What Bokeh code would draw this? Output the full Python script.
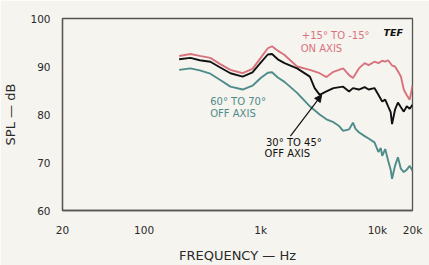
from bokeh.plotting import figure
from bokeh.models import FixedTicker, Label, Arrow, NormalHead
from bokeh.embed import file_html
from bokeh.resources import INLINE

# ---- data ----
on_freq = [200, 250, 300, 370, 450, 550, 700, 850, 1000, 1150, 1250, 1400, 1600, 2050, 2640, 3200, 3660,
           4200, 5090, 5720, 6180, 6940, 7780, 8410, 9440, 10200, 11000, 11670, 12360, 13360,
           14160, 15000, 15900, 16840, 17860, 18920, 20000]
on_db = [92.2, 92.6, 92.2, 91.8, 90.5, 89.3, 88.6, 89.5, 91.8, 93.8, 94.2, 93.3, 92.4, 90.0, 89.3, 88.6, 87.8,
         88.9, 89.6, 88.2, 87.6, 89.6, 90.7, 90.3, 91.0, 90.7, 91.2, 91.0, 91.3, 90.2,
         90.0, 89.0, 87.9, 85.2, 84.0, 83.1, 86.0]

mid_freq = [200, 250, 300, 370, 450, 550, 700, 850, 1000, 1150, 1250, 1400, 1600, 2050, 2640, 2900, 3200,
            3660, 4200, 5090, 5720, 6180, 6940, 7780, 8410, 9440, 10200, 11000, 11670, 12360,
            13000, 13360, 14160, 15000, 15900, 16840, 17860, 18920, 20000]
mid_db = [91.5, 91.8, 91.3, 91.0, 89.8, 88.6, 87.9, 88.8, 90.8, 92.5, 92.6, 91.5, 90.7, 89.6, 87.9, 85.5, 84.1,
          84.8, 85.5, 85.8, 84.8, 85.5, 85.2, 85.7, 85.2, 85.5, 84.1, 82.7, 83.1, 81.7,
          80.5, 78.0, 81.0, 82.5, 81.5, 80.6, 81.7, 81.2, 82.0]

off_freq = [200, 250, 300, 370, 450, 550, 700, 850, 1000, 1150, 1250, 1400, 1600, 2050, 2640, 3200, 3660,
            4200, 4700, 5090, 5720, 6180, 6500, 6940, 7780, 8410, 9440, 10200, 10700, 11000, 11670,
            12360, 13000, 13360, 14160, 15000, 15900, 16840, 17860, 18920, 20000]
off_db = [89.3, 89.6, 89.2, 88.5, 87.2, 85.8, 85.2, 86.0, 87.6, 88.7, 88.8, 87.7, 86.8, 84.5, 81.7, 80.0, 79.0,
          78.4, 77.6, 76.6, 76.9, 78.3, 77.0, 76.3, 75.5, 75.0, 74.2, 72.2, 73.0, 71.4, 72.8,
          70.4, 68.5, 66.6, 69.3, 71.1, 68.7, 68.0, 68.5, 69.3, 68.3]

x_ticks = [20, 100, 1000, 10000, 20000]
x_tick_labels = ["20", "100", "1k", "10k", "20k"]
y_ticks = [60, 70, 80, 90, 100]

BG = "#f6f4ee"
RED = "#d8737e"
TEAL = "#4e8b8b"
INK = "#2a2a2a"
FONT = "DejaVu Sans"

p = figure(width=429, height=265, x_axis_type="log", x_range=(20, 20000), y_range=(60, 100),
           output_backend="svg", toolbar_location=None,
           min_border_left=54, min_border_right=17, min_border_top=18, min_border_bottom=53)
p.background_fill_color = BG
p.border_fill_color = BG
p.outline_line_color = "#555555"
p.outline_line_width = 1.3
p.grid.grid_line_color = None

p.xaxis.ticker = FixedTicker(ticks=x_ticks)
p.xaxis.major_label_overrides = {t: l for t, l in zip(x_ticks, x_tick_labels)}
p.yaxis.ticker = FixedTicker(ticks=y_ticks)
for ax in (p.xaxis, p.yaxis):
    ax.major_tick_line_color = None
    ax.minor_tick_line_color = None
    ax.axis_line_color = "#555555"
    ax.axis_line_width = 1.3
    ax.major_label_text_font = FONT
    ax.major_label_text_font_size = "10.5px"
    ax.major_label_text_color = INK
    ax.axis_label_text_font = FONT
    ax.axis_label_text_font_style = "normal"
    ax.axis_label_text_font_size = "13px"
    ax.axis_label_text_color = INK
p.xaxis.major_label_standoff = 7
p.yaxis.major_label_standoff = 6
p.xaxis.axis_label = "FREQUENCY \u2014 Hz"
p.xaxis.axis_label_standoff = 9
p.yaxis.axis_label = "SPL \u2014 dB"
p.yaxis.axis_label_standoff = 9

p.line(off_freq, off_db, line_color=TEAL, line_width=1.9)
p.line(on_freq, on_db, line_color=RED, line_width=1.9)
p.line(mid_freq, mid_db, line_color="#111111", line_width=1.9)

def lab(x, y, t, color, style="normal", size="10px"):
    p.add_layout(Label(x=x, y=y, text=t, text_color=color, text_font=FONT,
                       text_font_size=size, text_font_style=style, text_baseline="middle"))

lab(2250, 96.5, "+15\u00b0 TO -15\u00b0", RED)
lab(2200, 93.8, "ON AXIS", RED)
lab(11300, 97.1, "TEF", "#111111", "bold italic", "9.5px")
lab(369, 82.7, "60\u00b0 TO 70\u00b0", TEAL)
lab(369, 80.2, "OFF AXIS", TEAL)
lab(1110, 74.2, "30\u00b0 TO 45\u00b0", "#111111")
lab(1080, 71.8, "OFF AXIS", "#111111")

p.add_layout(Arrow(x_start=1797, y_start=75.5, x_end=3330, y_end=84.1, line_color="#111111",
                   line_width=1.2, end=NormalHead(size=7, fill_color="#111111", line_color="#111111")))

open("out.html", "w").write(file_html(p, INLINE))
